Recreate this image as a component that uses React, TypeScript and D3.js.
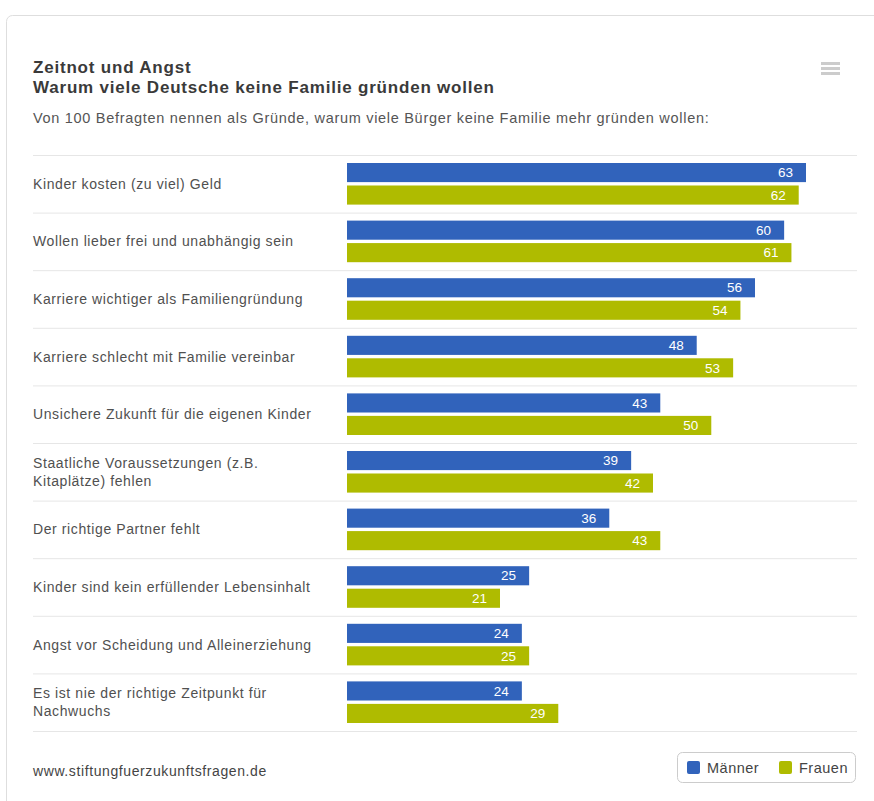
import React from "react";
import * as d3 from "d3";

const categories: string[][] = [
  ["Kinder kosten (zu viel) Geld"],
  ["Wollen lieber frei und unabhängig sein"],
  ["Karriere wichtiger als Familiengründung"],
  ["Karriere schlecht mit Familie vereinbar"],
  ["Unsichere Zukunft für die eigenen Kinder"],
  ["Staatliche Voraussetzungen (z.B.", "Kitaplätze) fehlen"],
  ["Der richtige Partner fehlt"],
  ["Kinder sind kein erfüllender Lebensinhalt"],
  ["Angst vor Scheidung und Alleinerziehung"],
  ["Es ist nie der richtige Zeitpunkt für", "Nachwuchs"],
];
const maenner = [63, 60, 56, 48, 43, 39, 36, 25, 24, 24];
const frauen = [62, 61, 54, 53, 50, 42, 43, 21, 25, 29];
const seriesNames = ["Männer", "Frauen"];
const seriesColors = ["#3163BB", "#AFBB00"];

const W = 874;
const H = 801;
const FONT = "'Liberation Sans', Arial, sans-serif";

export default function App() {
  const x = d3.scaleLinear().domain([0, 70]).range([347, 857]);
  const y = d3
    .scaleBand<number>()
    .domain(d3.range(categories.length))
    .range([155, 731])
    .paddingInner(0)
    .paddingOuter(0);
  const inner = d3
    .scaleBand<number>()
    .domain([0, 1])
    .range([8, y.bandwidth() - 8])
    .paddingInner(0.15)
    .paddingOuter(0);
  const series = [maenner, frauen];

  return (
    <svg
      width={W}
      height={H}
      style={{ position: "absolute", left: 0, top: 0, display: "block", background: "#fff" }}
      fontFamily={FONT}
    >
      <rect x={6.5} y={15.5} width={900} height={900} rx={6} fill="#fff" stroke="#dedede" />
      <text x={33} y={73} fontSize={17} fontWeight="bold" fill="#3a3a3a" letterSpacing={0.8}>
        Zeitnot und Angst
      </text>
      <text x={33} y={93} fontSize={17} fontWeight="bold" fill="#3a3a3a" letterSpacing={0.8}>
        Warum viele Deutsche keine Familie gründen wollen
      </text>
      <text x={33} y={123} fontSize={14.5} fill="#555" letterSpacing={0.7}>
        Von 100 Befragten nennen als Gründe, warum viele Bürger keine Familie mehr gründen wollen:
      </text>
      {/* menu icon */}
      {[0, 5, 10].map((d) => (
        <rect key={d} x={821} y={62 + d} width={19} height={3} fill="#cccccc" />
      ))}

      {/* separators */}
      {d3.range(categories.length + 1).map((i) => {
        const yy = i < categories.length ? (y(i) as number) : 731;
        return (
          <line key={i} x1={33} x2={857} y1={yy + 0.5} y2={yy + 0.5} stroke="#e6e6e6" />
        );
      })}

      {categories.map((lines, i) => {
        const cy = (y(i) as number) + y.bandwidth() / 2;
        const lh = 18;
        const start = cy - ((lines.length - 1) * lh) / 2;
        return (
          <text key={i} fontSize={14} fill="#505050" letterSpacing={0.6}>
            {lines.map((l, j) => (
              <tspan key={j} x={33} y={start + j * lh} dy="0.35em">
                {l}
              </tspan>
            ))}
          </text>
        );
      })}

      {series.map((vals, s) =>
        vals.map((v, i) => {
          const by = (y(i) as number) + (inner(s) as number);
          const bh = inner.bandwidth();
          return (
            <g key={`${s}-${i}`}>
              <rect x={x(0)} y={by} width={x(v) - x(0)} height={bh} fill={seriesColors[s]} />
              <text
                x={x(v) - 13}
                y={by + bh / 2}
                dy="0.35em"
                textAnchor="end"
                fontSize={13.5}
                fill="#fff"
              >
                {v}
              </text>
            </g>
          );
        })
      )}

      <text x={33} y={776} fontSize={14} fill="#444" letterSpacing={0.6}>
        www.stiftungfuerzukunftsfragen.de
      </text>

      {/* legend */}
      <rect x={677.5} y={752.5} width={178} height={30} rx={5} fill="#fff" stroke="#cccccc" />
      {seriesNames.map((n, s) => {
        const lx = [687, 779][s];
        return (
          <g key={n}>
            <rect x={lx} y={761} width={13} height={13} rx={2} fill={seriesColors[s]} />
            <text x={lx + 20} y={767.5} dy="0.35em" fontSize={14.5} fill="#444" letterSpacing={0.5}>
              {n}
            </text>
          </g>
        );
      })}
    </svg>
  );
}
